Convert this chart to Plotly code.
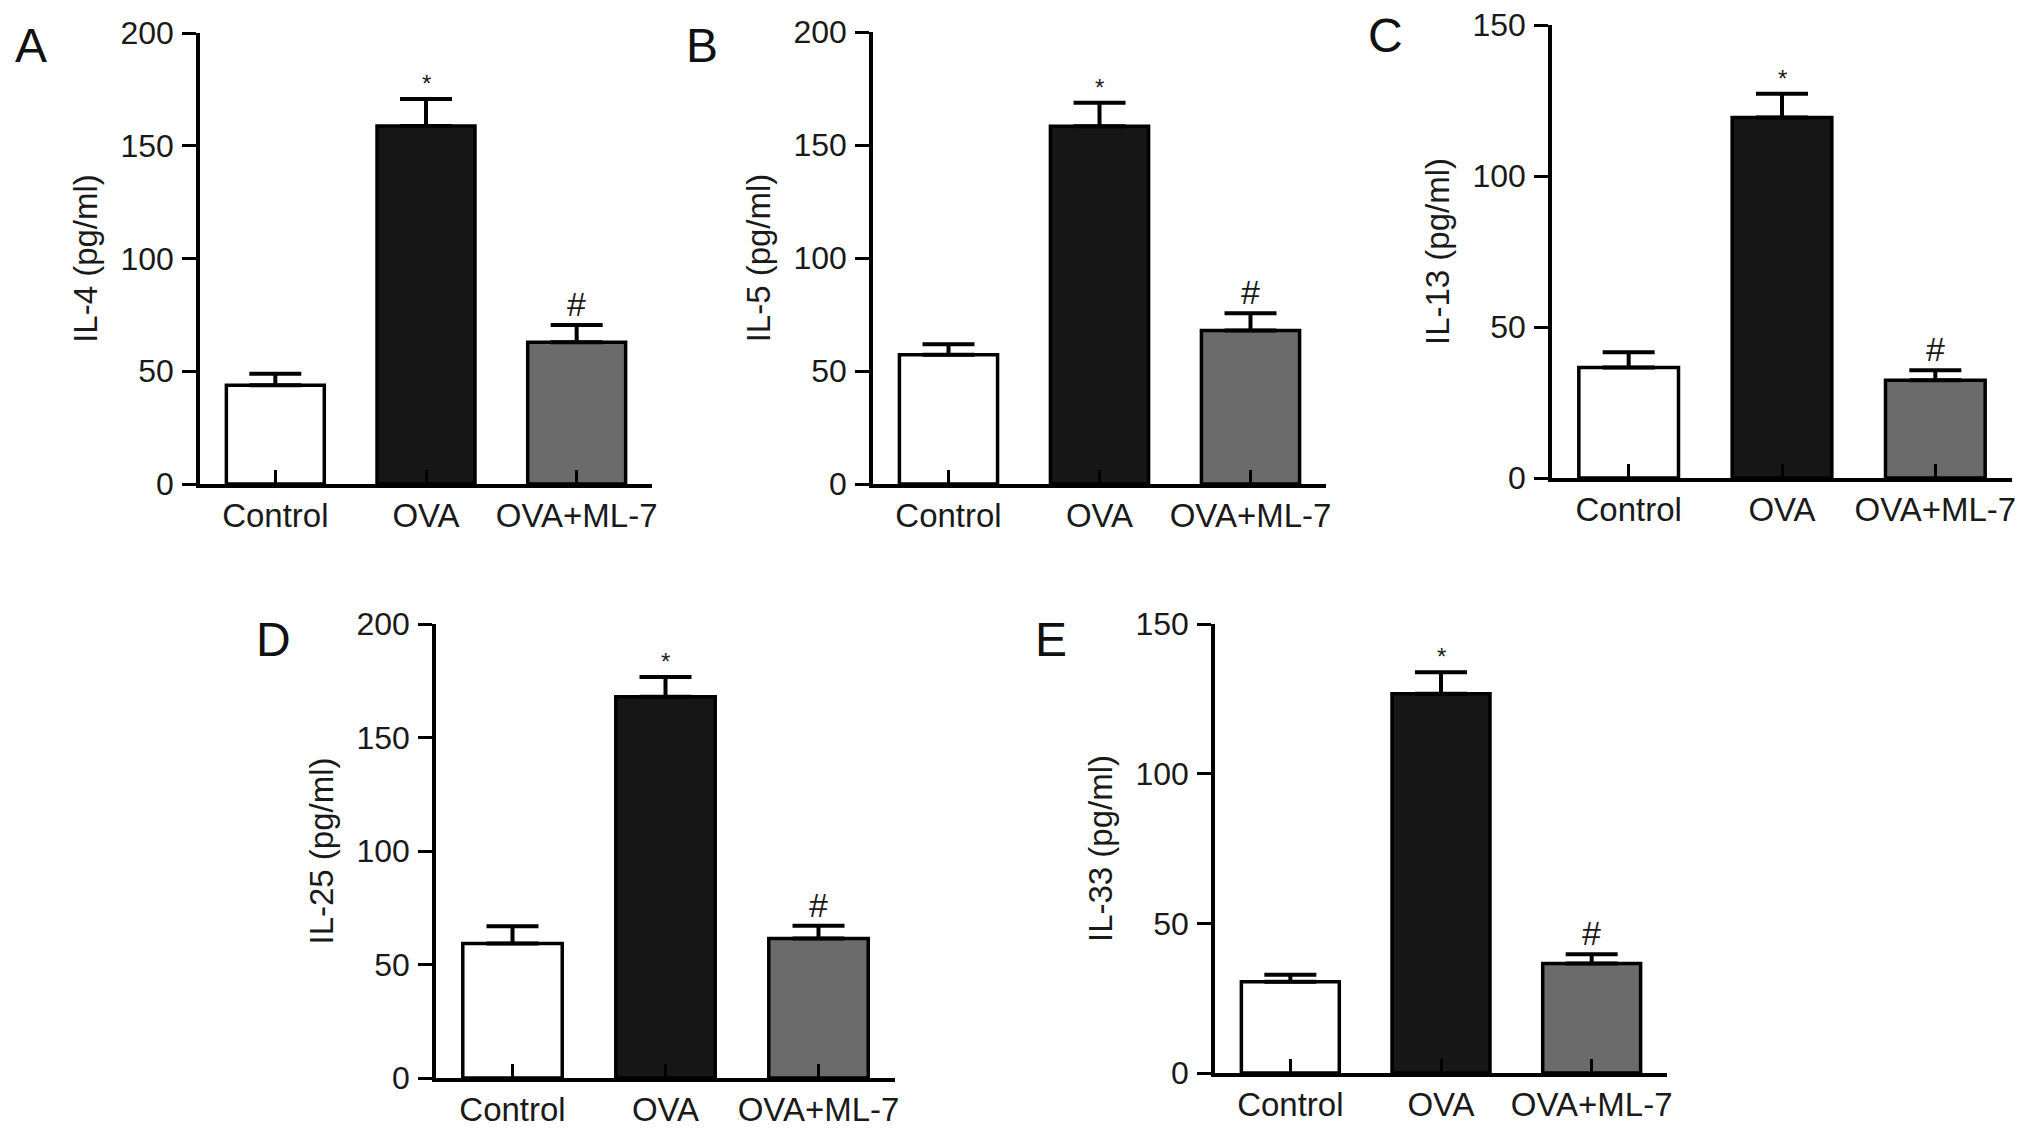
import plotly.graph_objects as go

# --------------------------------------------------------------------------------------
# Dados (media e erro padrao, pg/ml)
# --------------------------------------------------------------------------------------
categorias = ["Control", "OVA", "OVA+ML-7"]

il4 = [43.8, 158.8, 62.9]
il4_erro = [5.1, 11.9, 7.6]

il5 = [57.2, 158.3, 67.9]
il5_erro = [4.6, 10.4, 7.7]

il13 = [36.6, 119.4, 32.4]
il13_erro = [5.0, 7.8, 3.3]

il25 = [59.2, 167.9, 61.4]
il25_erro = [7.6, 8.8, 5.7]

il33 = [30.5, 126.7, 36.6]
il33_erro = [2.3, 7.2, 3.1]

marcas = ["", "*", "#"]

cores = ["#ffffff", "#161616", "#6b6b6b"]
L, H = 2032, 1130

# letra, titulo do eixo y, valores, erros, maximo do eixo, dominio x (px), dominio y (px, de cima), posicao da letra (px)
# (a pagina tem margem de 8px, por isso tudo esta deslocado 8px)
paineis = [
    ("A", "IL-4 (pg/ml)", il4, il4_erro, 200, (192, 644), (25, 476), (5, 38)),
    ("B", "IL-5 (pg/ml)", il5, il5_erro, 200, (865, 1318), (24, 476), (676, 37)),
    ("C", "IL-13 (pg/ml)", il13, il13_erro, 150, (1544, 2004), (17, 470), (1358, 28)),
    ("D", "IL-25 (pg/ml)", il25, il25_erro, 200, (428, 887), (616, 1070), (246, 631)),
    ("E", "IL-33 (pg/ml)", il33, il33_erro, 150, (1207, 1659), (616, 1065), (1025, 631)),
]

fonte = "Liberation Sans, Arial, sans-serif"
fig = go.Figure()
anotacoes = []

for i, (letra, titulo, valores, erros, ymax, dx, dy, pos) in enumerate(paineis):
    n = "" if i == 0 else str(i + 1)
    fig.add_trace(go.Bar(
        x=categorias, y=valores, width=0.65,
        marker=dict(color=cores, line=dict(color="black", width=3.5)),
        error_y=dict(type="data", array=erros, arrayminus=[0, 0, 0], symmetric=False,
                     color="black", thickness=4, width=26),
        xaxis="x" + n, yaxis="y" + n, showlegend=False,
    ))

    fig.update_layout(**{
        "xaxis" + n: dict(
            domain=[dx[0] / L, dx[1] / L], anchor="y" + n, range=[-0.5, 2.5],
            showline=True, linecolor="black", linewidth=3.5,
            ticks="inside", ticklen=14, tickwidth=3, tickcolor="black",
            tickfont=dict(size=33, color="#1a1a1a"), showgrid=False, zeroline=False,
            automargin=False,
        ),
        "yaxis" + n: dict(
            domain=[1 - dy[1] / H, 1 - dy[0] / H], anchor="x" + n, range=[0, ymax], dtick=50,
            showline=True, linecolor="black", linewidth=3.5,
            ticks="outside", ticklen=14, tickwidth=3, tickcolor="black",
            tickfont=dict(size=32, color="#1a1a1a"), ticklabelstandoff=2,
            ticklabeloverflow="allow",
            showgrid=False, zeroline=False, automargin=False,
            title=dict(text=titulo, font=dict(size=33, color="#1a1a1a"), standoff=14),
        ),
    })

    # marcas de significancia em cima das barras de erro
    for j, m in enumerate(marcas):
        if m:
            anotacoes.append(dict(
                x=categorias[j], y=valores[j] + erros[j], xref="x" + n, yref="y" + n,
                text=m, showarrow=False, yanchor="bottom",
                font=dict(size=24 if m == "*" else 34, color="#1a1a1a", family=fonte),
            ))

    # letra do painel
    anotacoes.append(dict(
        x=pos[0] / L, y=1 - pos[1] / H, xref="paper", yref="paper",
        text=letra, showarrow=False, xanchor="left", yanchor="middle",
        font=dict(size=48, color="#111111", family=fonte),
    ))

fig.update_layout(
    width=L, height=H,
    margin=dict(l=0, r=0, t=0, b=0),
    paper_bgcolor="white", plot_bgcolor="white",
    font=dict(family=fonte),
    annotations=anotacoes,
)

fig.write_html("out.html")
